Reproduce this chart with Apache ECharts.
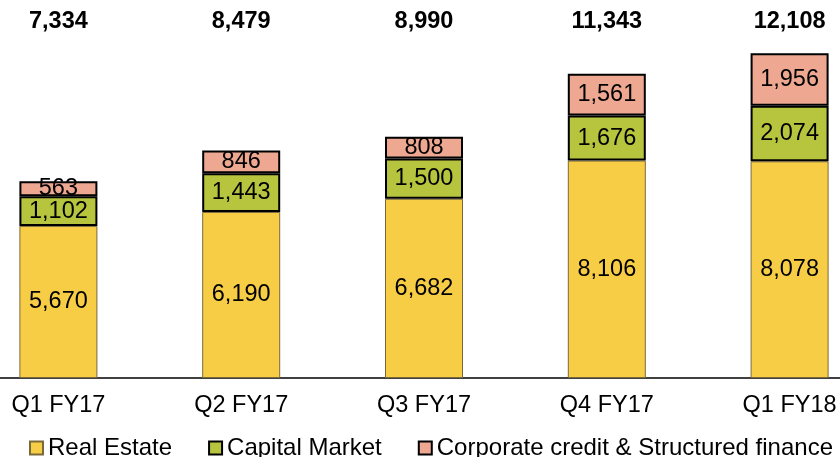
<!DOCTYPE html>
<html style="height: 100%;">

<head>
    <meta charset="utf-8">
    <title>Quarterly stacked bars</title>
    <script src="https://cdn.jsdelivr.net/npm/echarts@6/dist/echarts.min.js"></script>
    <style>
        html,
        body {
            height: 100%;
            margin: 0;
            padding: 0;
            background-color: #fff;
        }

        #main {
            width: 840px;
            height: 457px;
        }
    </style>
</head>

<body>
    <div id="main"></div>
    <script type="text/javascript">
        // data
        var quarters = ['Q1 FY17', 'Q2 FY17', 'Q3 FY17', 'Q4 FY17', 'Q1 FY18'];
        var realEstate = [5670, 6190, 6682, 8106, 8078];
        var capitalMarket = [1102, 1443, 1500, 1676, 2074];
        var corporateCredit = [563, 846, 808, 1561, 1956];
        var totals = [7334, 8479, 8990, 11343, 12108];

        var font = '"Liberation Sans", Arial, sans-serif';

        function fmt(v) {
            return v.toLocaleString('en-US');
        }

        var myChart = echarts.init(document.getElementById('main'));

        var labelStyle = {
            show: true,
            position: 'inside',
            color: '#000',
            fontSize: 23.5,
            fontFamily: font,
            formatter: function (p) { return fmt(p.value); }
        };

        var option = {
            animation: false,
            textStyle: { fontFamily: font },
            grid: {
                left: -33,
                width: 914,
                top: 40,
                bottom: 79,
                containLabel: false,
                outerBoundsMode: 'none'
            },
            legend: {
                left: 29,
                top: 436,
                width: 900,
                padding: 0,
                icon: 'rect',
                itemWidth: 13,
                itemHeight: 13,
                itemGap: 36,
                textStyle: { fontSize: 24, color: '#000', fontFamily: font },
                data: ['Real Estate', 'Capital Market', 'Corporate credit & Structured finance']
            },
            xAxis: [{
                type: 'category',
                data: quarters,
                axisLine: { lineStyle: { color: '#000', width: 1.5 } },
                axisTick: { show: false },
                axisLabel: { color: '#000', fontSize: 23.5, margin: 16, fontFamily: font }
            }, {
                type: 'category',
                position: 'top',
                data: totals.map(fmt),
                axisLine: { show: false },
                axisTick: { show: false },
                axisLabel: { color: '#000', fontSize: 23.5, fontWeight: 'bold', margin: 6, fontFamily: font }
            }],
            yAxis: {
                type: 'value',
                min: 0,
                max: 12600,
                show: false,
                splitLine: { show: false }
            },
            series: [{
                name: 'Real Estate',
                type: 'bar',
                stack: 'total',
                barWidth: 78,
                data: realEstate,
                itemStyle: { color: '#F8CD46', borderColor: '#7a6a3a', borderWidth: 1 },
                label: labelStyle
            }, {
                name: 'Capital Market',
                type: 'bar',
                stack: 'total',
                barWidth: 78,
                data: capitalMarket,
                itemStyle: { color: '#B6C43E', borderColor: '#000', borderWidth: 2 },
                label: labelStyle
            }, {
                name: 'Corporate credit & Structured finance',
                type: 'bar',
                stack: 'total',
                barWidth: 78,
                data: corporateCredit,
                itemStyle: { color: '#EEA891', borderColor: '#000', borderWidth: 2 },
                label: labelStyle
            }]
        };

        myChart.setOption(option);
    </script>
</body>

</html>
